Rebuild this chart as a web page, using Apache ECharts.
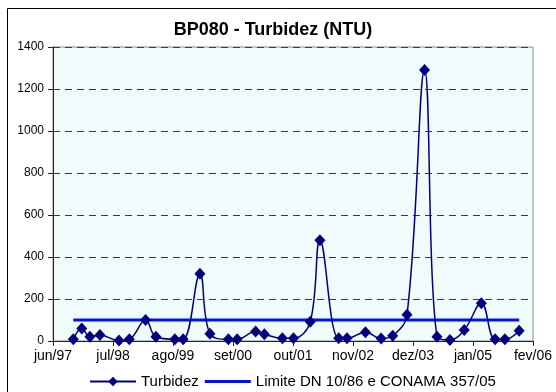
<!DOCTYPE html>
<html>
<head>
<meta charset="utf-8">
<script src="https://cdn.jsdelivr.net/npm/echarts@6/dist/echarts.min.js"></script>
<style>
  html, body { margin: 0; padding: 0; background: #ffffff; }
  #chart { width: 556px; height: 392px; }
</style>
</head>
<body>
<div id="chart"></div>
<script>
// Tick labels on the date axis (one every 13 months starting jun/97)
const tickLabels = ['jun/97', 'jul/98', 'ago/99', 'set/00', 'out/01', 'nov/02', 'dez/03', 'jan/05', 'fev/06'];
const tickStepMonths = 13;

// Sampling dates and turbidity readings (NTU)
const sampleDates = [
  '1997-10-13', '1997-12-08', '1998-02-01', '1998-04-06', '1998-08-10', '1998-10-17',
  '1999-02-03', '1999-04-10', '1999-08-13', '1999-10-07', '2000-01-26', '2000-04-01',
  '2000-08-01', '2000-09-28', '2001-01-28', '2001-03-25', '2001-07-22', '2001-10-04',
  '2002-01-23', '2002-03-26', '2002-07-28', '2002-09-22', '2003-01-22', '2003-05-04',
  '2003-07-19', '2003-10-22', '2004-02-16', '2004-05-07', '2004-08-01', '2004-11-04',
  '2005-02-25', '2005-05-25', '2005-07-28', '2005-11-01'
];
const turbidez = [
  8, 60, 20, 28, 2, 8,
  100, 20, 8, 8, 320, 35,
  8, 8, 45, 32, 13, 13,
  92, 480, 13, 13, 42, 12,
  25, 125, 1290, 20, 5, 52,
  180, 8, 8, 49
];

// Legal limit (DN 10/86 and CONAMA 357/05)
const limite = 100;

// Month offset from jun/1997, used as the x coordinate
function monthsFromStart(dateStr) {
  const [y, m, d] = dateStr.split('-').map(Number);
  return (y - 1997) * 12 + (m - 6) + (d - 1) / 30;
}

const turbidezData = sampleDates.map((d, i) => [monthsFromStart(d), turbidez[i]]);
const limiteData = [
  [monthsFromStart(sampleDates[0]), limite],
  [monthsFromStart(sampleDates[sampleDates.length - 1]), limite]
];

const chart = echarts.init(document.getElementById('chart'), null, { renderer: 'canvas' });

const fontFamily = 'Liberation Sans, Arial, sans-serif';
const limitName = 'Limite DN 10/86 e CONAMA 357/05';

chart.setOption({
  animation: false,
  backgroundColor: '#ffffff',
  textStyle: { fontFamily: fontFamily },
  title: {
    text: 'BP080 - Turbidez (NTU)',
    left: 268,
    textAlign: 'center',
    top: 16,
    textStyle: { fontSize: 18, fontWeight: 'bold', color: '#000000', fontFamily: fontFamily }
  },
  graphic: [{
    type: 'rect',
    shape: { x: 7.5, y: 8.5, width: 700, height: 500 },
    style: { fill: 'none', stroke: '#000000', lineWidth: 1 },
    silent: true
  }],
  legend: {
    left: 84,
    top: 369,
    itemWidth: 46,
    itemHeight: 12,
    itemGap: 6,
    textStyle: { fontSize: 15, color: '#000000', fontFamily: fontFamily },
    data: [
      { name: 'Turbidez' },
      // plain line icon: a thin bar centred in the 46x12 icon box
      { name: limitName, icon: 'path://M0,0L0.01,0M0,4.5L46,4.5L46,7.5L0,7.5ZM46,12L45.99,12' }
    ]
  },
  grid: {
    left: 53,
    right: 23,
    top: 47,
    bottom: 51,
    show: true,
    backgroundColor: '#f0fbfb',
    borderColor: '#8c8c8c',
    borderWidth: 1
  },
  xAxis: {
    type: 'value',
    min: 0,
    max: tickStepMonths * (tickLabels.length - 1),
    interval: tickStepMonths,
    axisLine: { show: true, lineStyle: { color: '#222222', width: 1 } },
    axisTick: { show: true, length: 5, lineStyle: { color: '#222222' } },
    splitLine: { show: false },
    axisLabel: {
      fontSize: 14,
      color: '#000000',
      margin: 8,
      fontFamily: fontFamily,
      formatter: v => tickLabels[Math.round(v / tickStepMonths)] || ''
    }
  },
  yAxis: {
    type: 'value',
    min: 0,
    max: 1400,
    interval: 200,
    axisLine: { show: true, lineStyle: { color: '#222222', width: 1 } },
    axisTick: { show: true, length: 5, lineStyle: { color: '#222222' } },
    splitLine: { show: true, lineStyle: { color: '#3a3a3a', width: 1, type: [7, 5] } },
    axisLabel: {
      fontSize: 12,
      color: '#000000',
      margin: 9,
      fontFamily: fontFamily,
      formatter: v => String(v)
    }
  },
  series: [
    {
      name: 'Turbidez',
      type: 'line',
      data: turbidezData,
      smooth: 0.4,
      symbol: 'diamond',
      symbolSize: [11, 12],
      z: 3,
      lineStyle: { color: '#000080', width: 1.5 },
      itemStyle: { color: '#000080' }
    },
    {
      name: limitName,
      type: 'line',
      data: limiteData,
      symbol: 'none',
      z: 2,
      lineStyle: { color: '#0010ff', width: 3 },
      itemStyle: { color: '#0010ff' }
    }
  ]
});
</script>
</body>
</html>
